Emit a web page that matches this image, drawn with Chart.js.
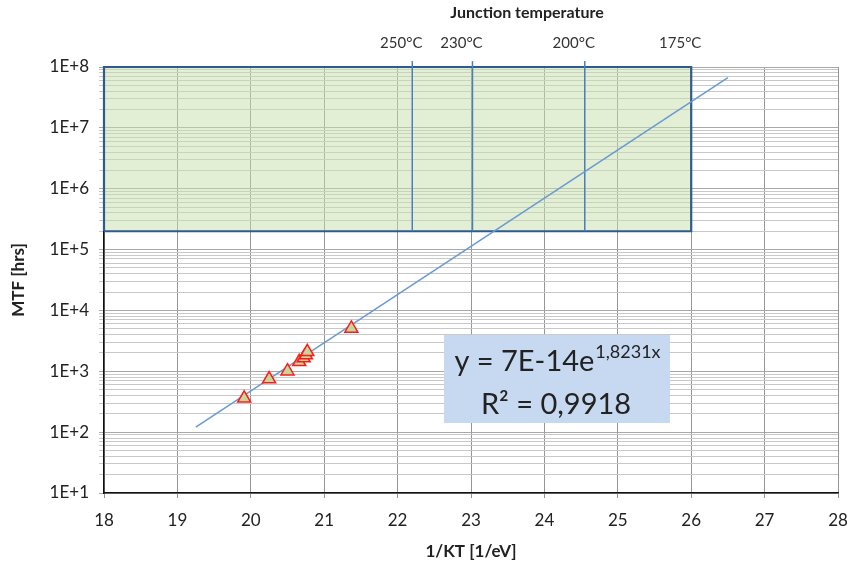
<!DOCTYPE html>
<html><head><meta charset="utf-8">
<script src="https://cdn.jsdelivr.net/npm/chart.js@4.4.1/dist/chart.umd.min.js"></script>
<style>html,body{margin:0;padding:0;background:#fff}#c{display:block}</style>
</head><body>
<canvas id="c" width="851" height="566"></canvas>
<script>
// ---- data ----
const xValues   = [19.91, 20.25, 20.50, 20.66, 20.72, 20.75, 20.77, 21.37];
const mtfValues = [360, 745, 1005, 1430, 1650, 1845, 2090, 5060];
const fitX = [19.25, 26.5];
const fitY = [121, 6.7e7];
const tempLabels = ['250°C', '230°C', '200°C', '175°C'];
const tempX = [22.2, 23.02, 24.55, 26.0];
const boxX = [18, 26];
const boxY = [2e5, 1e8];
const xTickValues = [18, 19, 20, 21, 22, 23, 24, 25, 26, 27, 28];
const yTickLabels = ['1E+1', '1E+2', '1E+3', '1E+4', '1E+5', '1E+6', '1E+7', '1E+8'];
const equationMain = 'y = 7E-14e';
const equationExp = '1,8231x';
const r2Text = 'R² = 0,9918';
const topTitle = 'Junction temperature';
const xTitle = '1/KT [1/eV]';
const yTitle = 'MTF [hrs]';

const FONT = "Lato, 'Open Sans', Arial, sans-serif";

const scatterData = xValues.map((x, i) => ({x, y: mtfValues[i]}));
const fitData = fitX.map((x, i) => ({x, y: fitY[i]}));
const tempLineSets = tempX.slice(0, 3).map(x => ({
  type: 'line',
  data: [{x, y: boxY[0]}, {x, y: boxY[1] * 1.25}],
  borderColor: '#4a7ebb', borderWidth: 1.5, pointRadius: 0, clip: false, order: 2
}));

const overlay = {
  id: 'overlay',
  afterDraw(chart) {
    const ctx = chart.ctx, xs = chart.scales.x;
    ctx.save();
    ctx.fillStyle = '#222';
    ctx.textAlign = 'center';
    ctx.textBaseline = 'middle';
    ctx.font = "bold 16px " + FONT;
    ctx.fillText(topTitle, 527, 13);
    ctx.font = "15px " + FONT;
    ctx.fillStyle = '#333';
    tempLabels.forEach((t, i) => {
      ctx.fillText(t, xs.getPixelForValue(tempX[i]) - 11, 43);
    });
    // equation box
    ctx.fillStyle = '#c6d9f1';
    ctx.fillRect(444, 335, 226, 88);
    ctx.fillStyle = '#222';
    ctx.textBaseline = 'alphabetic';
    ctx.textAlign = 'left';
    ctx.font = "29px " + FONT;
    const w1 = ctx.measureText(equationMain).width;
    ctx.font = "18px " + FONT;
    const w2 = ctx.measureText(equationExp).width;
    const sx = 557 - (w1 + w2) / 2;
    ctx.font = "29px " + FONT;
    ctx.fillText(equationMain, sx, 371);
    ctx.font = "18px " + FONT;
    ctx.fillText(equationExp, sx + w1 + 1, 358);
    ctx.font = "29px " + FONT;
    ctx.textAlign = 'center';
    ctx.fillText(r2Text, 556, 414);
    ctx.restore();
  }
};

new Chart(document.getElementById('c'), {
  type: 'scatter',
  data: {
    datasets: [
      {
        type: 'scatter', data: scatterData, order: 0,
        pointStyle: 'triangle', pointRadius: 7.5, pointHoverRadius: 7.5,
        backgroundColor: '#c4d79b', borderColor: '#ff1a1a', borderWidth: 1.5
      },
      {
        type: 'line', data: fitData, order: 1,
        borderColor: '#6b9bd2', borderWidth: 1.6, pointRadius: 0
      },
      ...tempLineSets,
      {
        type: 'line', order: 3,
        data: [{x: boxX[0], y: boxY[0]}, {x: boxX[0], y: boxY[1]}, {x: boxX[1], y: boxY[1]}, {x: boxX[1], y: boxY[0]}, {x: boxX[0], y: boxY[0]}],
        borderColor: '#2f5a8f', borderWidth: 2.2, pointRadius: 0, fill: false, clip: false
      },
      {
        type: 'line', order: 4,
        data: [{x: boxX[0], y: boxY[1]}, {x: boxX[1], y: boxY[1]}],
        borderWidth: 0, pointRadius: 0,
        fill: {value: boxY[0]}, backgroundColor: 'rgba(198, 224, 170, 0.5)'
      }
    ]
  },
  options: {
    responsive: false, animation: false, devicePixelRatio: 1,
    layout: {padding: {top: 67, right: 0, left: 4, bottom: 0}},
    plugins: {legend: {display: false}, tooltip: {enabled: false}},
    scales: {
      x: {
        type: 'linear', min: 18, max: 28,
        afterBuildTicks: s => { s.ticks = xTickValues.map(v => ({value: v})); },
        afterFit: s => { s.height = 73; s.paddingRight = 13; s.paddingLeft = 0; },
        grid: {color: '#959595', lineWidth: 1, tickLength: 5, drawTicks: true},
        border: {color: '#111', width: 1.5},
        ticks: {color: '#222', font: {family: FONT, size: 17}, padding: 12, maxRotation: 0},
        title: {display: true, text: xTitle, color: '#222', font: {family: FONT, size: 17, weight: 'bold'}, padding: {top: 4}}
      },
      y: {
        type: 'logarithmic', min: 10, max: 1e8,
        afterBuildTicks: s => {
          const t = [];
          for (let e = 1; e <= 8; e++) {
            for (let m = 1; m <= 9; m++) {
              if (e === 8 && m > 1) break;
              t.push({value: m * Math.pow(10, e)});
            }
          }
          s.ticks = t;
        },
        afterFit: s => { s.width = 100; },
        grid: {
          color: c => {
            const v = c.tick && c.tick.value;
            const lg = Math.log10(v);
            return Math.abs(lg - Math.round(lg)) < 1e-6 ? '#a8a8a8' : '#c8c8c8';
          },
          lineWidth: 1, tickLength: 5
        },
        border: {color: '#111', width: 1.5},
        ticks: {
          color: '#222', font: {family: FONT, size: 17}, padding: 10, autoSkip: false,
          callback: (v) => {
            const lg = Math.log10(v);
            if (Math.abs(lg - Math.round(lg)) < 1e-6) return yTickLabels[Math.round(lg) - 1];
            return '';
          }
        },
        title: {display: true, text: yTitle, color: '#222', font: {family: FONT, size: 17, weight: 'bold'}, padding: {bottom: 4}}
      }
    }
  },
  plugins: [overlay]
});
</script>
</body></html>
